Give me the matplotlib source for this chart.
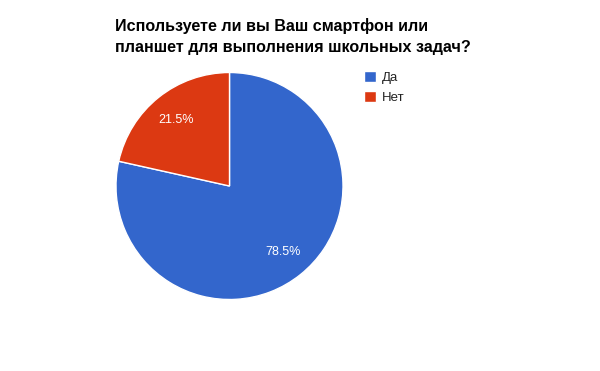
import matplotlib
matplotlib.use("Agg")
import matplotlib.pyplot as plt

# Data
labels = ["Да", "Нет"]
values = [78.5, 21.5]
colors = ["#3366cc", "#dc3912"]
title_lines = ["Используете ли вы Ваш смартфон или",
               "планшет для выполнения школьных задач?"]

plt.rcParams["font.family"] = ["Liberation Sans", "DejaVu Sans"]

W, H = 600, 371
fig = plt.figure(figsize=(W / 100, H / 100), dpi=100)

# pie centre and radius in pixels
cx, cy, r = 229.5, 186, 113.5
ax = fig.add_axes([(cx - r) / W, (H - cy - r) / H, 2 * r / W, 2 * r / H])

wedges, texts, autotexts = ax.pie(
    values,
    colors=colors,
    startangle=90,
    counterclock=False,
    radius=1,
    autopct="%.1f%%",
    pctdistance=0.75,
    wedgeprops={"edgecolor": "white", "linewidth": 1},
    textprops={"color": "white", "fontsize": 9},
)
ax.set_xlim(-1, 1)
ax.set_ylim(-1, 1)
ax.axis("off")

# title, one text per line so the baselines sit where they should
for i, line in enumerate(title_lines):
    fig.text(115 / W, 1 - (31 + 21 * i) / H, line, ha="left", va="baseline",
             fontsize=11.6, fontweight="bold", color="black")

fig.legend(wedges, labels, loc="upper left",
           bbox_to_anchor=(352 / W, 1 - 59 / H), frameon=False,
           handlelength=0.9, handleheight=0.9, handletextpad=0.5,
           labelspacing=0.55, fontsize=9.5, labelcolor="#222222")

fig.savefig("out.png", dpi=100, facecolor="white")
